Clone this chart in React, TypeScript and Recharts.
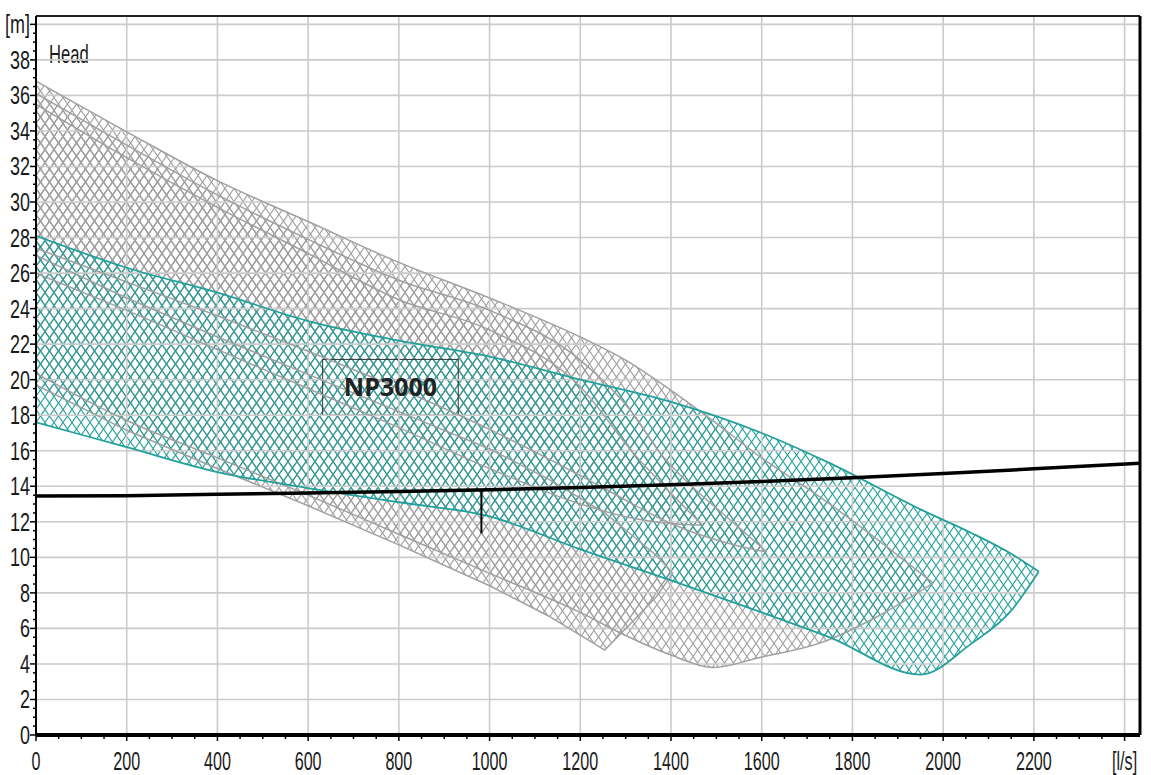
import { ComposedChart, Area, Line, XAxis, YAxis, ReferenceLine, ReferenceArea } from 'recharts';

// flow in l/s, head in m

// selected pump range NP3000 (teal)
const tealQ = [0, 200, 400, 600, 800, 1000, 1200, 1400, 1600, 1750, 1950, 2060, 2150, 2211];
const tealHi = [28.1, 26.3, 24.9, 23.3, 22.2, 21.3, 20.0, 18.75, 17.0, 15.3, 12.7, 11.4, 10.2, 9.2];
const tealLo = [17.6, 16.2, 14.8, 13.9, 13.1, 12.3, 10.45, 8.7, 6.9, 5.5, 3.4, 5.1, 7.0, 9.2];

// other pump ranges (gray)
const g1Q = [0, 200, 400, 600, 800, 1000, 1200, 1300, 1400, 1492, 1600, 1728, 1850, 1978];
const g1Hi = [36.8, 33.95, 31.2, 28.9, 26.6, 24.6, 22.4, 21.1, 19.4, 17.7, 15.6, 13.4, 11.1, 8.55];
const g1Lo = [20.35, 17.7, 15.6, 13.5, 11.3, 9.1, 6.9, 5.6, 4.5, 3.8, 4.39, 5.17, 6.6, 8.55];

const g2Q = [0, 200, 400, 600, 800, 1000, 1130, 1254, 1316, 1368, 1404];
const g2Hi = [27.0, 24.6, 22.4, 20.3, 18.2, 16.1, 14.4, 12.5, 11.2, 10.1, 9.1];
const g2Lo = [19.7, 17.15, 15.0, 12.9, 10.7, 8.4, 6.7, 4.78, 6.4, 7.8, 9.1];

const g3Q = [0, 200, 400, 600, 800, 1000, 1200, 1316, 1375, 1450, 1540, 1611];
const g3Hi = [36.1, 33.2, 30.4, 27.9, 25.6, 23.9, 21.1, 18.1, 15.9, 13.9, 11.9, 10.3];
const g3Lo = [27.4, 25.5, 23.6, 21.6, 19.5, 17.2, 14.6, 13.0, 12.2, 11.4, 10.7, 10.3];

const g4Q = [0, 200, 400, 600, 800, 1000, 1200, 1316, 1400, 1470];
const g4Hi = [35.5, 32.5, 29.7, 27.1, 24.5, 22.8, 19.6, 15.9, 13.6, 11.8];
const g4Lo = [26.0, 23.9, 21.7, 19.5, 17.3, 15.0, 13.0, 12.2, 11.9, 11.8];

// system curve and duty point
const sysQ = [0, 200, 400, 600, 800, 1000, 1200, 1400, 1600, 1800, 2000, 2200, 2434];
const sysH = [13.45, 13.47, 13.55, 13.62, 13.7, 13.8, 13.93, 14.08, 14.27, 14.48, 14.72, 14.98, 15.3];
const dutyQ = [982, 982];
const dutyH = [13.75, 11.35];

// axes
const xMajor = [0, 200, 400, 600, 800, 1000, 1200, 1400, 1600, 1800, 2000, 2200, 2400];
const yMajor = [0, 2, 4, 6, 8, 10, 12, 14, 16, 18, 20, 22, 24, 26, 28, 30, 32, 34, 36, 38, 40];
const xTicks = Array.from({ length: 49 }, (_, i) => i * 50);
const yTicks = Array.from({ length: 81 }, (_, i) => i * 0.5);
const X_MAX = 2434;
const Y_MAX = 40.47;

const grayShapes = [
  { q: g1Q, hi: g1Hi, lo: g1Lo, curve: 'monotone' },
  { q: g2Q, hi: g2Hi, lo: g2Lo, curve: 'linear' },
  { q: g3Q, hi: g3Hi, lo: g3Lo, curve: 'monotone' },
  { q: g4Q, hi: g4Hi, lo: g4Lo, curve: 'monotone' },
];

const rangeData = (q: number[], lo: number[], hi: number[]) =>
  q.map((x, i) => ({ x, r: [lo[i], hi[i]] }));
const lineData = (q: number[], h: number[]) => q.map((x, i) => ({ x, y: h[i] }));

const TEAL = '#22a09c';
const GRAY = '#a0a0a0';

const XTick = ({ x, y, payload }: any) => {
  const v = payload.value;
  const major = v % 200 === 0;
  return (
    <g>
      <line x1={x} y1={y} x2={x} y2={y + (major ? 6 : 4)} stroke='#000' strokeWidth={1.5} />
      {major && (
        <text
          transform={`translate(${x},${y + 35}) scale(0.62,1)`}
          textAnchor='middle'
          fontSize={26}
          fill='#1a1a1a'
        >{v === 2400 ? '[l/s]' : v}</text>
      )}
    </g>
  );
};

const YTick = ({ x, y, payload }: any) => {
  const v = payload.value;
  const major = v % 2 === 0;
  return (
    <g>
      <line x1={x} y1={y} x2={x - (major ? 6 : 3)} y2={y} stroke='#000' strokeWidth={1.5} />
      {major && (
        <text
          transform={`translate(${x - 6},${y + 9}) scale(0.72,1)`}
          textAnchor='end'
          fontSize={25}
          fill='#1a1a1a'
        >{v === 40 ? '[m]' : v}</text>
      )}
    </g>
  );
};

export default function App() {
  return (
    <div style={{ position: 'absolute', left: 0, top: 0, fontFamily: '"Liberation Sans", Arial, sans-serif', background: '#fff' }}>
      <ComposedChart width={1151} height={775} margin={{ top: 16, right: 11, bottom: 0, left: 0 }}>
        <defs>
          <pattern id='hatchGray' patternUnits='userSpaceOnUse' width='9' height='13'>
            <path d='M4.5,0 L9,6.5 L4.5,13 L0,6.5 Z' fill='none' stroke={GRAY} strokeWidth='1.2' />
          </pattern>
          <pattern id='hatchTeal' patternUnits='userSpaceOnUse' width='9' height='13'>
            <path d='M4.5,0 L9,6.5 L4.5,13 L0,6.5 Z' fill='none' stroke={TEAL} strokeWidth='1.15' />
          </pattern>
        </defs>

        {xMajor.slice(1).map((v) => (
          <ReferenceLine key={`gx${v}`} x={v} stroke='#cbcbcb' strokeWidth={1.6} />
        ))}
        {yMajor.slice(1).map((v) => (
          <ReferenceLine key={`gy${v}`} y={v} stroke='#cbcbcb' strokeWidth={1.6} />
        ))}

        <XAxis
          type='number'
          dataKey='x'
          domain={[0, X_MAX]}
          ticks={xTicks}
          interval={0}
          tick={(p: any) => <XTick {...p} />}
          tickLine={false}
          tickSize={0}
          tickMargin={0}
          height={40}
          axisLine={{ stroke: '#000', strokeWidth: 4 }}
          allowDataOverflow
        />
        <YAxis
          type='number'
          domain={[0, Y_MAX]}
          ticks={yTicks}
          interval={0}
          tick={(p: any) => <YTick {...p} />}
          tickLine={false}
          tickSize={0}
          tickMargin={0}
          width={36}
          axisLine={{ stroke: '#000', strokeWidth: 2 }}
          allowDataOverflow
        />

        {grayShapes.map((s, i) => (
          <Area
            key={`ga${i}`}
            data={rangeData(s.q, s.lo, s.hi)}
            dataKey='r'
            type={s.curve as any}
            fill='url(#hatchGray)'
            fillOpacity={1}
            stroke='none'
            isAnimationActive={false}
          />
        ))}
        <Area
          data={rangeData(tealQ, tealLo, tealHi)}
          dataKey='r'
          type='monotone'
          fill='url(#hatchTeal)'
          fillOpacity={1}
          stroke='none'
          isAnimationActive={false}
        />

        {grayShapes.map((s, i) => [
          <Line key={`gh${i}`} data={lineData(s.q, s.hi)} dataKey='y' type={s.curve as any} stroke={GRAY} strokeWidth={1.5} dot={false} isAnimationActive={false} />,
          <Line key={`gl${i}`} data={lineData(s.q, s.lo)} dataKey='y' type={s.curve as any} stroke={GRAY} strokeWidth={1.5} dot={false} isAnimationActive={false} />,
        ])}
        <Line data={lineData(tealQ, tealHi)} dataKey='y' type='monotone' stroke={TEAL} strokeWidth={1.8} dot={false} isAnimationActive={false} />
        <Line data={lineData(tealQ, tealLo)} dataKey='y' type='monotone' stroke={TEAL} strokeWidth={1.8} dot={false} isAnimationActive={false} />

        <Line data={lineData(sysQ, sysH)} dataKey='y' type='linear' stroke='#000' strokeWidth={3.5} dot={false} isAnimationActive={false} />
        <Line data={lineData(dutyQ, dutyH)} dataKey='y' type='linear' stroke='#000' strokeWidth={2} dot={false} isAnimationActive={false} />

        <ReferenceArea
          x1={632}
          x2={931}
          y1={18.0}
          y2={21.14}
          fill='none'
          fillOpacity={0}
          stroke='#333'
          strokeWidth={1}
          label={{ value: 'NP3000', position: 'center', fontFamily: '"Open Sans", sans-serif', fontWeight: 700, fontSize: 25, fill: '#222' }}
        />

        <ReferenceLine y={Y_MAX} stroke='#222' strokeWidth={2} />
        <ReferenceLine x={X_MAX} stroke='#000' strokeWidth={3} />

        <text transform='translate(49,63) scale(0.64,1)' fontSize={26} fill='#1a1a1a'>Head</text>
      </ComposedChart>
    </div>
  );
}
